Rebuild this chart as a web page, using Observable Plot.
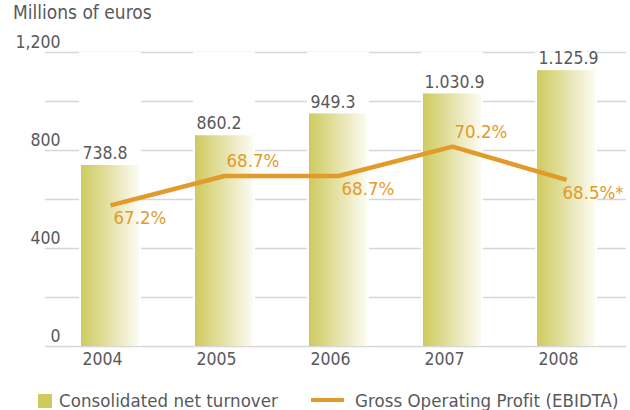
<!DOCTYPE html>
<html>
<head>
<meta charset="utf-8">
<script src="https://cdn.jsdelivr.net/npm/d3@7"></script>
<script src="https://cdn.jsdelivr.net/npm/@observablehq/plot@0.6"></script>
<style>
  html, body { margin: 0; padding: 0; background: #fff; }
  #wrap { position: relative; width: 630px; height: 410px; font-family: "DejaVu Sans Condensed", "DejaVu Sans", sans-serif; color: #58595b; }
  #title { position: absolute; left: 13px; top: 1px; font-size: 19px; white-space: nowrap; }
  #chart { position: absolute; left: 0; top: 26px; }
  .lg { position: absolute; font-size: 18.5px; letter-spacing: 0.05px; white-space: nowrap; line-height: normal; }
</style>
</head>
<body>
<div id="wrap">
  <div id="title">Millions of euros</div>
  <div id="chart"></div>
  <div class="lg" style="left:38px;top:394px;width:14px;height:14px;background:#cfca5e;"></div>
  <div class="lg" style="left:59px;top:390px;">Consolidated net turnover</div>
  <div class="lg" style="left:311px;top:398px;width:33px;height:4px;background:#e29a2a;"></div>
  <div class="lg" style="left:355px;top:390px;">Gross Operating Profit (EBIDTA)</div>
</div>
<script>
const years = ["2004", "2005", "2006", "2007", "2008"];
const turnover = [738.8, 860.2, 949.3, 1030.9, 1125.9];
const turnoverLabels = ["738.8", "860.2", "949.3", "1.030.9", "1.125.9"];
const ebitdaPct = [67.2, 68.7, 68.7, 70.2, 68.5];
const ebitdaLabels = ["67.2%", "68.7%", "68.7%", "70.2%", "68.5%*"];
const yTickLabels = [0, 400, 800, 1200];
const gridValues = [0, 200, 400, 600, 800, 1000, 1200];
const yDomain = [0, 1200];
const pctDomain = [60, 75];
const labelAboveYears = ["2005", "2007"];

const pctToY = d3.scaleLinear().domain(pctDomain).range(yDomain);
const rows = years.map((year, i) => ({
  year, value: turnover[i], label: turnoverLabels[i],
  pct: ebitdaPct[i], pctLabel: ebitdaLabels[i], pctY: pctToY(ebitdaPct[i])
}));

const gray = "#58595b";
const orange = "#e29a2a";
const font = "DejaVu Sans Condensed, DejaVu Sans, sans-serif";

const above = rows.filter(d => labelAboveYears.includes(d.year));
const below = rows.filter(d => !labelAboveYears.includes(d.year) && d.year !== years[years.length - 1]);
const last = rows.filter(d => d.year === years[years.length - 1]);

const svg = Plot.plot({
  width: 630,
  height: 360,
  marginTop: 26,
  marginBottom: 40,
  marginLeft: 45,
  marginRight: 4,
  style: { fontFamily: font, fontSize: "17px", color: gray, background: "white", overflow: "visible" },
  x: { type: "band", domain: years, range: [78, 598], paddingInner: 0.4585, paddingOuter: 0, axis: null },
  y: { domain: yDomain, axis: null },
  marks: [
    Plot.ruleY(gridValues, { stroke: "#d6d6d6", strokeWidth: 1.6 }),
    Plot.barY(rows, { x: "year", y1: yDomain[0], y2: yDomain[1], fill: "white" }),
    Plot.barY(rows, { x: "year", y: "value", fill: "url(#barGrad)", insetLeft: 2, insetRight: 2 }),
    Plot.text(yTickLabels, { y: d => d, text: d => d3.format(",")(d), frameAnchor: "left", textAnchor: "end", dx: 15, dy: -10, fill: gray, fontSize: 17.5 }),
    Plot.text(rows, { x: "year", frameAnchor: "bottom", text: "year", textAnchor: "start", dx: -28, dy: 18, fill: gray, fontSize: 17.5 }),
    Plot.text(rows, { x: "year", y: "value", text: "label", textAnchor: "start", dx: -28, dy: -12, fill: gray, fontSize: 17.5 }),
    Plot.line(rows, { x: "year", y: "pctY", stroke: orange, strokeWidth: 4.5, strokeLinejoin: "miter", strokeLinecap: "butt" }),
    Plot.text(above, { x: "year", y: "pctY", text: "pctLabel", textAnchor: "start", dx: 2, dy: -15, fill: orange, fontSize: 18.5 }),
    Plot.text(below, { x: "year", y: "pctY", text: "pctLabel", textAnchor: "start", dx: 3, dy: 13, fill: orange, fontSize: 18.5 }),
    Plot.text(last, { x: "year", y: "pctY", text: "pctLabel", textAnchor: "start", dx: -4, dy: 13, fill: orange, fontSize: 18.5 })
  ]
});

const defs = d3.select(svg).insert("defs", ":first-child");
const grad = defs.append("linearGradient").attr("id", "barGrad").attr("x1", "0").attr("x2", "1").attr("y1", "0").attr("y2", "0");
grad.append("stop").attr("offset", "0%").attr("stop-color", "#cfca5e");
grad.append("stop").attr("offset", "100%").attr("stop-color", "#fbfbf3");

document.getElementById("chart").appendChild(svg);
</script>
</body>
</html>
